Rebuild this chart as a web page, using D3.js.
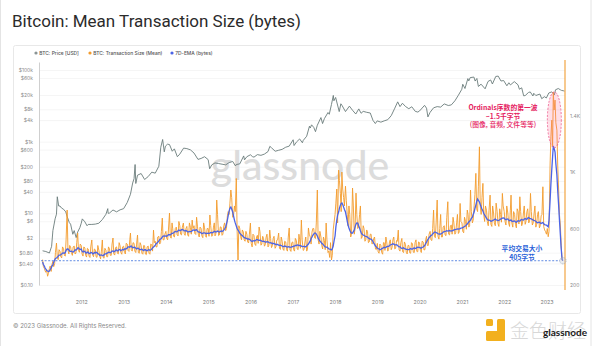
<!DOCTYPE html>
<html>
<head>
<meta charset="utf-8">
<script src="https://cdn.jsdelivr.net/npm/d3@7"></script>
<style>
  html, body { margin: 0; padding: 0; background: #fff; }
  body { width: 600px; height: 346px; overflow: hidden; font-family: Inter, Roboto, "Noto Sans", sans-serif; }
</style>
</head>
<body>
<div class="chart"></div>
<script>
// ---- data ----

// BTC price, USD
const priceData = [
  ["2011-02-01",0.9],["2011-03-01",0.86],["2011-04-01",0.78],["2011-04-20",1.2],["2011-05-01",3.3],["2011-05-20",7],
  ["2011-06-01",9.5],["2011-06-08",29],["2011-06-20",16],["2011-07-01",16],["2011-07-15",14],["2011-08-01",13],
  ["2011-08-20",11],["2011-09-01",8.2],["2011-09-20",5.5],["2011-10-01",5],["2011-10-20",2.6],["2011-11-01",3.3],
  ["2011-11-18",2.1],["2011-12-01",3],["2011-12-20",4],
  ["2012-01-01",5.3],["2012-01-10",7],["2012-02-01",5.8],["2012-02-20",4.5],["2012-03-01",4.9],["2012-04-01",4.9],
  ["2012-05-01",5],["2012-06-01",5.3],["2012-07-01",6.7],["2012-08-01",9.4],["2012-08-17",13.5],["2012-08-20",10],
  ["2012-09-01",10.2],["2012-10-01",12.4],["2012-11-01",11],["2012-12-01",12.5],
  ["2013-01-01",13.5],["2013-02-01",20],["2013-03-01",34],["2013-03-20",70],["2013-04-01",93],["2013-04-10",230],
  ["2013-04-16",68],["2013-05-01",116],["2013-06-01",129],["2013-07-01",88],["2013-08-01",106],["2013-09-01",141],
  ["2013-10-01",132],["2013-11-01",206],["2013-11-18",700],["2013-12-04",1150],["2013-12-18",520],["2013-12-28",750],
  ["2014-01-15",850],["2014-02-01",830],["2014-02-25",540],["2014-03-15",630],["2014-04-10",380],["2014-05-01",450],
  ["2014-06-03",660],["2014-07-01",640],["2014-08-01",590],["2014-09-01",480],["2014-10-05",320],["2014-11-01",340],
  ["2014-12-01",380],
  ["2015-01-01",315],["2015-01-14",175],["2015-02-01",225],["2015-03-01",255],["2015-04-01",245],["2015-05-01",235],
  ["2015-06-01",225],["2015-07-01",260],["2015-08-01",280],["2015-08-25",210],["2015-09-01",230],["2015-10-01",240],
  ["2015-11-04",400],["2015-11-11",310],["2015-12-01",380],
  ["2016-01-01",430],["2016-01-20",380],["2016-02-01",370],["2016-03-01",435],["2016-04-01",415],["2016-05-01",450],
  ["2016-06-01",530],["2016-06-17",740],["2016-07-01",675],["2016-08-02",540],["2016-09-01",575],["2016-10-01",610],
  ["2016-11-01",700],["2016-12-01",750],
  ["2017-01-04",1130],["2017-01-12",780],["2017-02-01",970],["2017-03-01",1190],["2017-03-25",930],["2017-04-01",1080],
  ["2017-05-01",1420],["2017-05-25",2700],["2017-06-01",2400],["2017-06-12",2950],["2017-07-01",2500],["2017-07-16",1900],
  ["2017-08-01",2870],["2017-09-01",4700],["2017-09-15",3200],["2017-10-01",4400],["2017-11-01",6500],["2017-11-12",5800],
  ["2017-12-01",10900],["2017-12-17",19500],["2017-12-22",13800],
  ["2018-01-06",17100],["2018-02-06",6900],["2018-02-20",11400],["2018-03-01",10400],["2018-04-01",6900],["2018-05-05",9800],
  ["2018-06-01",7500],["2018-06-29",5900],["2018-07-25",8200],["2018-08-14",6200],["2018-09-01",7000],["2018-10-01",6600],
  ["2018-11-01",6300],["2018-11-25",3900],["2018-12-15",3200],["2018-12-31",3800],
  ["2019-02-01",3500],["2019-03-01",3800],["2019-04-01",4100],["2019-05-01",5300],["2019-06-01",8600],["2019-06-26",12900],
  ["2019-07-16",9500],["2019-08-06",11800],["2019-09-01",9600],["2019-09-30",8300],["2019-10-26",9400],["2019-11-25",7000],
  ["2019-12-17",6700],
  ["2020-01-01",7200],["2020-02-13",10300],["2020-03-01",8600],["2020-03-13",4900],["2020-04-01",6600],["2020-05-01",8800],
  ["2020-06-01",9500],["2020-07-01",9200],["2020-08-01",11300],["2020-09-05",10200],["2020-10-01",10600],["2020-11-01",13800],
  ["2020-12-01",19700],["2020-12-31",29000],
  ["2021-01-08",40000],["2021-01-27",30400],["2021-02-21",57500],["2021-03-01",49600],["2021-03-13",61200],["2021-04-14",63500],
  ["2021-04-25",49100],["2021-05-10",58000],["2021-05-23",34700],["2021-06-15",40200],["2021-07-20",29800],["2021-08-14",47800],
  ["2021-09-06",52700],["2021-09-21",40600],["2021-10-20",66000],["2021-11-10",67500],["2021-12-04",49200],["2021-12-27",50800],
  ["2022-01-24",36200],["2022-02-10",44000],["2022-02-24",38300],["2022-03-29",47400],["2022-04-30",38600],["2022-05-12",29000],
  ["2022-06-01",31800],["2022-06-18",19000],["2022-07-01",19300],["2022-07-30",23600],["2022-08-14",24400],["2022-09-06",18800],
  ["2022-09-13",22400],["2022-10-01",19400],["2022-11-05",21300],["2022-11-21",15800],["2022-12-14",18000],["2022-12-31",16550],
  ["2023-01-21",22800],["2023-02-16",24500],["2023-03-10",20200],["2023-03-20",28000],["2023-04-13",30400],["2023-05-01",28000],
  ["2023-05-11",26900],["2023-05-25",26400],["2023-06-06",25700]
];

// mean transaction size (bytes) on the 1st and 16th of each month, from 2011-02-01
const sizeMean = [
  380,318,290,262,318,296,368,351,497,380,440,392,458,405,731,420,470,410,476,425,568,432,          // 2011
  480,405,462,398,455,395,519,400,450,396,445,385,519,390,446,400,455,410,533,412,470,420,478,418,  // 2012
  475,420,490,438,568,440,495,430,554,425,480,418,478,415,476,418,485,589,510,470,545,500,674,520,  // 2013
  580,520,710,532,598,540,610,548,620,555,639,552,615,545,608,660,620,558,612,540,600,535,605,538,  // 2014
  600,696,545,610,548,802,550,612,552,620,585,690,700,873,680,760,955,377,600,520,575,510,560,498,  // 2015
  639,470,550,480,552,611,482,545,475,540,470,589,465,530,460,518,568,452,510,445,505,440,604,438,  // 2016
  505,440,515,450,520,660,445,505,440,604,540,575,600,530,873,490,540,455,515,639,430,395,377,590,  // 2017
  700,880,1014,850,1000,820,900,700,760,540,887,560,851,600,700,530,620,510,590,500,560,490,530,455, // 2018
  495,425,480,418,500,540,440,505,450,520,455,515,589,440,530,430,488,420,480,425,492,430,520,435,  // 2019
  500,430,505,450,545,480,580,515,731,535,802,525,700,540,620,550,790,555,625,680,560,640,565,778,  // 2020
  640,570,650,731,610,873,640,760,991,720,1179,700,920,650,730,620,837,615,710,620,720,615,700,849, // 2021
  720,625,710,615,837,610,700,605,720,825,620,710,630,720,640,849,625,705,610,700,605,690,896,590,  // 2022
  560,542,1050,1368,1566,1510,1297,873,625,375                                                      // 2023
];
// mean transaction size (bytes) on the 8th and 23rd of each month, from 2011-02-08
const sizeMeanMid = [
  330,300,310,280,335,345,330,430,395,450,400,470,410,520,445,480,430,470,420,500,445,490,          // 2011
  420,470,410,460,405,470,415,455,400,480,405,440,395,460,400,470,410,490,420,465,425,500,430,470,  // 2012
  430,495,445,520,450,500,440,490,430,500,425,480,420,470,425,490,440,500,470,540,490,580,520,560,  // 2013
  530,590,540,640,545,600,555,650,560,610,565,600,555,640,560,600,565,680,560,610,548,640,550,600,  // 2014
  545,620,550,640,560,700,555,610,560,640,600,720,780,820,690,720,590,620,545,590,520,580,505,560,  // 2015
  495,560,490,540,495,580,490,530,485,560,480,530,478,545,470,520,460,540,455,510,450,540,448,500,  // 2016
  450,530,455,560,460,520,450,540,455,560,490,600,535,640,520,580,480,540,450,520,440,500,410,640,  // 2017
  780,640,940,720,880,760,800,620,700,560,760,600,700,610,760,540,600,520,580,505,560,495,540,450,  // 2018
  435,490,430,500,445,505,450,520,465,540,460,510,450,500,435,505,432,480,428,500,432,500,438,505,  // 2019
  445,510,448,520,480,560,520,600,545,640,545,600,540,610,555,680,560,620,560,640,570,700,575,650,  // 2020
  580,680,595,700,620,720,660,840,740,900,760,820,700,760,650,730,630,760,640,780,635,740,645,760,  // 2021
  650,760,640,730,640,720,630,740,632,720,640,760,650,740,655,720,640,760,630,720,620,700,615,580,  // 2022
  600,580,1250,1180,1440,1350,1050,700,480,372                                                      // 2023
];

// 7D-EMA (bytes), 1st and 16th of each month
const sizeEma = [
  363,334,313,299,299,320,342,377,391,405,412,420,427,430,455,448,438,434,441,448,462,455,
  455,434,438,427,431,424,429,422,427,430,418,412,409,414,420,427,431,434,441,438,448,444,450,448,
  448,455,462,470,474,466,468,460,461,453,452,447,450,444,449,446,455,469,483,497,512,526,540,547,
  547,551,556,561,566,575,578,585,586,592,589,584,582,576,578,584,588,590,582,574,569,566,570,565,
  568,568,571,575,578,578,578,579,579,589,611,660,724,752,717,660,618,589,568,554,542,533,529,526,
  519,508,514,517,522,516,515,509,508,504,506,499,497,494,490,488,483,482,476,472,474,469,471,468,
  471,476,480,483,480,476,473,471,476,490,512,540,561,568,547,519,504,490,476,469,462,455,448,476,
  547,660,717,766,781,752,717,653,604,575,568,589,632,639,604,568,554,547,542,533,526,519,497,476,
  462,456,452,460,468,466,474,478,486,492,484,486,474,470,459,464,456,452,450,458,455,463,460,468,
  466,462,469,483,504,526,544,554,568,575,568,561,561,568,579,582,582,586,582,586,593,596,596,600,
  604,611,618,632,646,660,681,717,766,809,788,752,724,696,674,660,657,653,660,667,660,657,667,674,
  674,662,668,655,660,649,654,644,656,652,664,660,671,666,678,670,664,658,652,641,645,636,642,628,
  625,613,795,1021,1184,1142,979,766,554,380
];
// 7D-EMA (bytes), 8th and 23rd of each month
const sizeEmaMid = [
  345,320,302,295,310,335,362,388,396,412,414,426,425,445,455,440,440,433,448,452,462,452,
  440,440,428,433,423,430,421,430,432,422,411,413,407,420,424,432,429,440,436,446,441,452,444,452,
  455,456,470,468,476,464,467,456,460,450,453,444,450,443,450,448,463,474,492,503,521,530,546,546,
  545,557,555,567,568,580,577,589,586,594,584,586,576,579,578,590,586,592,576,574,565,570,566,566,
  566,572,570,580,575,582,576,583,582,598,632,692,744,738,690,640,600,580,560,550,536,532,526,524,
  512,513,512,522,518,518,510,511,504,507,501,500,494,495,487,487,481,480,472,476,470,472,467,470,
  475,480,484,480,479,472,474,471,484,500,528,552,568,560,532,512,496,484,470,468,456,452,455,510,
  610,695,745,778,770,735,688,625,588,568,578,612,640,622,584,560,552,544,540,528,524,510,488,470,
  457,450,458,466,464,472,474,484,489,490,484,482,470,464,461,458,452,450,455,454,460,459,465,467,
  462,467,474,494,516,536,550,562,574,572,563,562,565,575,580,585,584,583,585,591,594,598,598,603,
  606,616,626,640,652,672,700,742,790,800,770,738,708,686,664,660,652,658,664,662,656,663,670,676,
  666,667,660,659,652,652,647,650,652,660,661,667,667,674,672,668,660,655,645,644,639,640,633,626,
  618,660,910,1110,1170,1060,870,660,460,372
];

// axis ticks
const yearTicks = [2012,2013,2014,2015,2016,2017,2018,2019,2020,2021,2022,2023];
const priceTicks = [100000,60000,20000,8000,4000,1000,600,200,80,40,10,6,2,0.8,0.4,0.1];
const priceTickLabels = ["$100k","$60k","$20k","$8k","$4k","$1k","$600","$200","$80","$40","$10","$6","$2","$0.80","$0.40","$0.10"];
const sizeTicks = [200,600,1000,1400];
const sizeTickLabels = ["200","600","1K","1.4K"];

const legendItems = ["BTC: Price [USD]","BTC: Transaction Size (Mean)","7D-EMA (bytes)"];
const legendColors = ["#8a9494","#f39b2b","#4b63e6"];

// annotations drawn on the picture
const avgLine = 372;            // where the dashed "405 bytes" line was drawn
const ordinalsPeak = ["2023-03-10", 1370];
const ordinalsText = ["Ordinals序数的第一波","~1.5千字节","(图像, 音频, 文件等等)"];
const avgText = ["平均交易大小","405字节"];

// ---- helpers ----
const parseDate = d3.timeParse('%Y-%m-%d');
// i-th point of a twice-a-month series that starts on day `first` of Feb 2011
const twiceMonthly = (first, second) => i => {
  const d = d3.timeMonth.offset(new Date(2011, 1, first), Math.floor(i / 2));
  if (i % 2) d.setDate(second);
  return d;
};
const dateA = twiceMonthly(1, 16);
const dateB = twiceMonthly(8, 23);

const byDate = (a, b) => a.date - b.date;
const prices = priceData.map(d => ({date: parseDate(d[0]), value: d[1]}));
const means = sizeMean.map((v, i) => ({date: dateA(i), value: v}))
    .concat(sizeMeanMid.map((v, i) => ({date: dateB(i), value: v}))).sort(byDate);
const emas = sizeEma.map((v, i) => ({date: dateA(i), value: v}))
    .concat(sizeEmaMid.map((v, i) => ({date: dateB(i), value: v}))).sort(byDate);

drawChart();

function drawChart(){
  const svg_width = 600, svg_height = 346;
  const plot = {left: 39, right: 565, top: 62, bottom: 285};

  const svg = d3.select('.chart').append('svg')
      .attr('width', svg_width).attr('height', svg_height);

  // page frame
  svg.append('line').attr('x1', 591).attr('x2', 591).attr('y1', 0).attr('y2', svg_height)
      .style('stroke', '#e4e4e4');
  svg.append('line').attr('x1', 0.5).attr('x2', 0.5).attr('y1', 0).attr('y2', svg_height)
      .style('stroke', '#e4e4e4');

  // title
  svg.append('text').attr('x', 12).attr('y', 27)
      .text('Bitcoin: Mean Transaction Size (bytes)')
      .style('font-family', 'Roboto, Inter, sans-serif')
      .style('font-size', '17px').style('fill', '#2b2b2b');

  // card
  svg.append('rect').attr('x', 13.5).attr('y', 45.5).attr('width', 567).attr('height', 268)
      .attr('rx', 2).style('fill', '#fff').style('stroke', '#e8e8e8');

  // scales
  const xScale = d3.scaleTime()
      .domain([new Date(2011, 0, 1), new Date(2023, 5, 10)])
      .range([plot.left, plot.right]);
  const yPrice = d3.scaleLog().domain([0.1, 167000]).range([plot.bottom, plot.top]);
  const ySize = d3.scaleLinear().domain([200, 1780]).range([plot.bottom, plot.top]);

  // legend
  const legendX = [36, 90, 172];
  const legend = svg.append('g').attr('class', 'legend');
  legendItems.forEach((name, i) => {
    legend.append('circle').attr('cx', legendX[i]).attr('cy', 53).attr('r', 1.6)
        .style('fill', legendColors[i]);
    legend.append('text').attr('x', legendX[i] + 3.3).attr('y', 54.8).text(name)
        .style('font-size', '4.9px').style('font-weight', 500).style('fill', '#555');
  });

  // grid
  svg.append('g').attr('class', 'grid')
      .attr('transform', `translate(${plot.left},0)`)
      .call(d3.axisLeft(yPrice).tickValues(priceTicks).tickFormat('')
          .tickSizeInner(-(plot.right - plot.left)).tickSizeOuter(0))
      .call(g => g.select('.domain').remove())
      .call(g => g.selectAll('line').style('stroke', '#f0f0f0').style('stroke-width', 0.7));

  // watermark
  svg.append('text').attr('x', 300).attr('y', 180).attr('text-anchor', 'middle')
      .text('glassnode')
      .style('font-family', 'Lato, Inter, sans-serif').style('font-size', '41px')
      .style('font-weight', 500).style('fill', '#dcdcdc');

  // clip
  svg.append('clipPath').attr('id', 'plotclip').append('rect')
      .attr('x', plot.left).attr('y', plot.top - 2)
      .attr('width', plot.right - plot.left).attr('height', plot.bottom - plot.top + 4);
  const lines = svg.append('g').attr('clip-path', 'url(#plotclip)');

  const priceLine = d3.line().x(d => xScale(d.date)).y(d => yPrice(d.value));
  const sizeLine = d3.line().x(d => xScale(d.date)).y(d => ySize(d.value));

  lines.append('path').datum(prices).attr('d', priceLine)
      .style('fill', 'none').style('stroke', '#6a7c7b').style('stroke-width', 0.9);
  lines.append('path').datum(means).attr('d', sizeLine)
      .style('fill', 'none').style('stroke', '#f39b2b').style('stroke-width', 0.9);
  lines.append('path').datum(emas).attr('d', sizeLine)
      .style('fill', 'none').style('stroke', '#4b63e6').style('stroke-width', 1.3);

  // left axis
  const yAxisDraw = svg.append('g').attr('class', 'y axis')
      .attr('transform', `translate(${plot.left},0)`)
      .call(d3.axisLeft(yPrice).tickValues(priceTicks)
          .tickFormat((d, i) => priceTickLabels[i]).tickSize(0).tickPadding(6));
  yAxisDraw.select('.domain').style('stroke', '#cfcfcf');
  yAxisDraw.selectAll('text').style('font-size', '5px').style('fill', '#8a8a8a')
      .style('font-family', 'Inter, sans-serif');

  // right axis
  const y2AxisDraw = svg.append('g').attr('class', 'y2 axis')
      .attr('transform', `translate(${plot.right},0)`)
      .call(d3.axisRight(ySize).tickValues(sizeTicks)
          .tickFormat((d, i) => sizeTickLabels[i]).tickSize(0).tickPadding(5));
  y2AxisDraw.select('.domain').remove();
  y2AxisDraw.append('line').attr('x1', 0).attr('x2', 0).attr('y1', 60).attr('y2', 290)
      .style('stroke', '#f2a544').style('stroke-width', 1.2);
  y2AxisDraw.selectAll('text').style('font-size', '5px').style('fill', '#8a8a8a')
      .style('font-family', 'Inter, sans-serif');

  // x axis
  const xAxisDraw = svg.append('g').attr('class', 'x axis')
      .attr('transform', `translate(0,${plot.bottom + 12})`)
      .call(d3.axisBottom(xScale).tickValues(yearTicks.map(y => new Date(y, 0, 1)))
          .tickFormat(d3.timeFormat('%Y')).tickSize(0));
  xAxisDraw.select('.domain').remove();
  xAxisDraw.selectAll('text').style('font-size', '5.3px').style('fill', '#7a7a7a')
      .style('font-family', 'Inter, sans-serif');

  // ---- annotations ----
  // dashed average line + end circle
  const last = emas[emas.length - 1];
  svg.append('line')
      .attr('x1', plot.left + 2).attr('x2', xScale(last.date) - 3)
      .attr('y1', ySize(avgLine)).attr('y2', ySize(avgLine))
      .style('stroke', '#3a6fdc').style('stroke-width', 0.8).style('stroke-dasharray', '2,1.6');
  svg.append('circle').attr('cx', xScale(last.date)).attr('cy', ySize(avgLine)).attr('r', 3.2)
      .style('fill', 'rgba(190,200,215,0.35)').style('stroke', '#9aa3b0')
      .style('stroke-width', 0.7).style('stroke-dasharray', '1.2,1');

  // ordinals ellipse
  svg.append('ellipse')
      .attr('cx', xScale(parseDate(ordinalsPeak[0]))).attr('cy', ySize(ordinalsPeak[1]))
      .attr('rx', 7).attr('ry', 28)
      .style('fill', 'rgba(255,110,150,0.22)').style('stroke', '#ec5a8c')
      .style('stroke-width', 0.8).style('stroke-dasharray', '2,1.5');

  const cjk = '"Noto Sans CJK SC", "Noto Sans", sans-serif';
  const ordG = svg.append('g').style('font-family', cjk).style('fill', '#e5205e')
      .attr('text-anchor', 'middle');
  ordinalsText.forEach((t, i) => {
    ordG.append('text').attr('x', 503).attr('y', 110 + i * 8.6).text(t)
        .style('font-size', '6.8px').style('font-weight', i < 2 ? 700 : 500);
  });

  const avgG = svg.append('g').style('font-family', cjk).style('fill', '#2a62d8')
      .attr('text-anchor', 'middle');
  avgText.forEach((t, i) => {
    avgG.append('text').attr('x', 522).attr('y', 251 + i * 8.6).text(t)
        .style('font-size', '6.8px').style('font-weight', 700);
  });

  // footer
  svg.append('text').attr('x', 13).attr('y', 328).text('© 2023 Glassnode. All Rights Reserved.')
      .style('font-size', '6px').style('fill', '#8a8a8a');

  // logos bottom right
  const logo = svg.append('g').attr('class', 'logo');
  logo.append('rect').attr('x', 486).attr('y', 319).attr('width', 7).attr('height', 7)
      .attr('rx', 1.5).style('fill', '#f2b01e');
  logo.append('rect').attr('x', 497).attr('y', 319).attr('width', 8).attr('height', 22)
      .attr('rx', 1.5).style('fill', '#f2b01e');
  logo.append('rect').attr('x', 486).attr('y', 331).attr('width', 19).attr('height', 10)
      .attr('rx', 1.5).style('fill', '#f2b01e');
  logo.append('text').attr('x', 510).attr('y', 338).text('金色财经')
      .style('font-family', cjk).style('font-size', '19px').style('font-weight', 300)
      .style('fill', '#d8d8d8');
  logo.append('text').attr('x', 565).attr('y', 336).attr('text-anchor', 'middle').text('glassnode')
      .style('font-family', 'Lato, Inter, sans-serif').style('font-size', '10px')
      .style('font-weight', 700).style('fill', '#1a1a1a');
}
</script>
</body>
</html>
